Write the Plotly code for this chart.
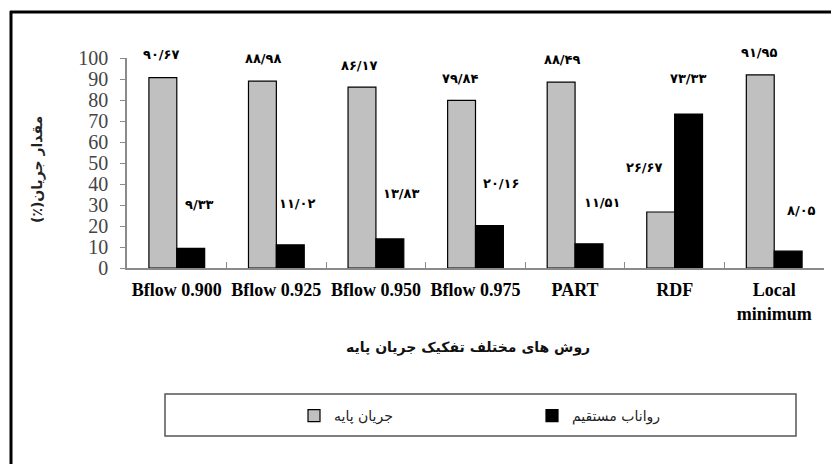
import plotly.graph_objects as go

# ---------------- data ----------------
categories = ["Bflow 0.900", "Bflow 0.925", "Bflow 0.950", "Bflow 0.975", "PART", "RDF", "Local<br>minimum"]
baseflow = [90.67, 88.98, 86.17, 79.84, 88.49, 26.67, 91.95]      # جریان پایه
direct_runoff = [9.33, 11.02, 13.83, 20.16, 11.51, 73.33, 8.05]   # رواناب مستقیم
series_names = ["جریان پایه", "رواناب مستقیم"]
y_ticks = [0, 10, 20, 30, 40, 50, 60, 70, 80, 90, 100]
x_title = "روش های مختلف تفکیک جریان پایه"
y_title = "مقدار جریان(٪)\u200f"

# ---------------- styling (label offsets in px) ----------------
base_dx = [-15, -13, -16, -15, -13, -30, -15]
base_dy = [23, 23, 22, 22, 23, 44, 22]
run_dx = [23, 21, 26, 26, 27, 14, 27]
run_dy = [44, 41, 45, 42, 41, 36, 41]

W, H = 831, 464
ML, MR, MT, MB = 127, 7, 58, 196
PW, PH = W - ML - MR, H - MT - MB


def px_x(px):
    return (px - ML) / PW


def px_y(py):
    return (H - MB - py) / PH


PERSIAN = str.maketrans("0123456789.", "۰۱۲۳۴۵۶۷۸۹/")


def fa(v):
    return f"{v:.2f}".translate(PERSIAN)


fig = go.Figure()
fig.add_trace(go.Bar(
    x=categories, y=baseflow, name=series_names[0],
    marker=dict(color="#c0c0c0", line=dict(color="#000000", width=1.2)),
))
fig.add_trace(go.Bar(
    x=categories, y=direct_runoff, name=series_names[1],
    marker=dict(color="#000000", line=dict(color="#000000", width=1.2)),
))

label_font = dict(family="DejaVu Sans", size=13, color="#000000", weight="bold")
annotations = []
for i, c in enumerate(categories):
    annotations.append(dict(x=c, y=baseflow[i], text=fa(baseflow[i]), showarrow=False,
                            xshift=base_dx[i], yshift=base_dy[i], font=label_font,
                            xanchor="center", yanchor="middle"))
    annotations.append(dict(x=c, y=direct_runoff[i], text=fa(direct_runoff[i]), showarrow=False,
                            xshift=run_dx[i], yshift=run_dy[i], font=label_font,
                            xanchor="center", yanchor="middle"))

# y-axis title
annotations.append(dict(xref="paper", yref="paper", x=px_x(37), y=px_y(170), text=y_title,
                        textangle=-90, showarrow=False, xanchor="center", yanchor="middle",
                        font=dict(family="DejaVu Sans", size=14, color="#222222", weight="bold")))
# x-axis title
annotations.append(dict(xref="paper", yref="paper", x=px_x(468), y=px_y(347), text=x_title,
                        showarrow=False, xanchor="center", yanchor="middle",
                        font=dict(family="DejaVu Sans", size=14, color="#111111", weight="bold")))

shapes = [
    # outer frame (left and top edges)
    dict(type="line", xref="paper", yref="paper", x0=px_x(11), x1=px_x(11), y0=px_y(11), y1=px_y(470),
         line=dict(color="#000000", width=3)),
    dict(type="line", xref="paper", yref="paper", x0=px_x(10), x1=px_x(835), y0=px_y(12), y1=px_y(12),
         line=dict(color="#000000", width=3)),
    # legend box
    dict(type="rect", xref="paper", yref="paper", x0=px_x(165), x1=px_x(796), y0=px_y(394), y1=px_y(436),
         line=dict(color="#555555", width=1.5), fillcolor="rgba(0,0,0,0)"),
]

fig.update_layout(
    width=W, height=H,
    margin=dict(l=ML, r=MR, t=MT, b=MB, pad=0),
    paper_bgcolor="#ffffff", plot_bgcolor="#ffffff",
    barmode="group", bargap=0.44, bargroupgap=0,
    showlegend=True,
    legend=dict(orientation="h", x=px_x(294), y=px_y(416), xanchor="left", yanchor="middle",
                entrywidth=193, entrywidthmode="pixels", bgcolor="rgba(0,0,0,0)",
                font=dict(family="DejaVu Sans", size=14, color="#222222"), traceorder="normal"),
    annotations=annotations,
    shapes=shapes,
    xaxis=dict(
        showline=True, linecolor="#8a8a8a", linewidth=1.5,
        ticks="inside", ticklen=6, tickcolor="#8a8a8a", tickson="boundaries",
        tickfont=dict(family="Liberation Serif", size=18, color="#000000", weight="bold"),
        ticklabelstandoff=5, showgrid=False, zeroline=False,
    ),
    yaxis=dict(
        range=[0, 100], tickvals=y_ticks, showline=True, linecolor="#8a8a8a", linewidth=1.5,
        ticks="outside", ticklen=5, tickcolor="#8a8a8a",
        tickfont=dict(family="Liberation Serif", size=20, color="#444444"),
        ticklabelstandoff=8, showgrid=False, zeroline=False,
    ),
)

fig.write_html("out.html")
